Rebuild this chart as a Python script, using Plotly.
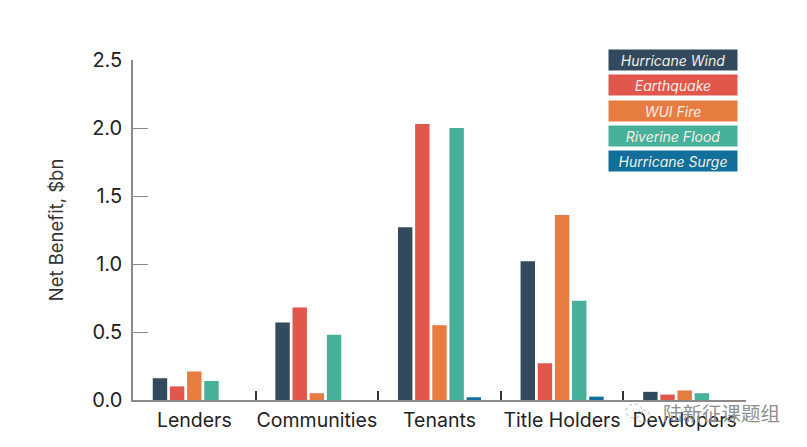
import plotly.graph_objects as go

categories = ["Lenders", "Communities", "Tenants", "Title Holders", "Developers"]
hurricane_wind = [0.16, 0.57, 1.27, 1.02, 0.06]
earthquake = [0.10, 0.68, 2.03, 0.27, 0.04]
wui_fire = [0.21, 0.05, 0.55, 1.36, 0.07]
riverine_flood = [0.14, 0.48, 2.00, 0.73, 0.05]
hurricane_surge = [0.0, 0.0, 0.02, 0.025, 0.0]
series_names = ["Hurricane Wind", "Earthquake", "WUI Fire", "Riverine Flood", "Hurricane Surge"]
series_values = [hurricane_wind, earthquake, wui_fire, riverine_flood, hurricane_surge]
colors = ["#334a5e", "#e2574c", "#e67c40", "#47b09a", "#11709b"]
y_ticks = [0, 0.5, 1.0, 1.5, 2.0, 2.5]
y_labels = ["0.0", "0.5", "1.0", "1.5", "2.0", "2.5"]

FONT = "Inter, Liberation Sans, sans-serif"
OFF = 8  # the page body has an 8px margin
W, H = 807 - OFF, 447 - OFF
L, R, T, B = 132.5 - OFF, 746 - OFF, 60 - OFF, 400 - OFF

fig = go.Figure()
for n, v, c in zip(series_names, series_values, colors):
    fig.add_bar(x=categories, y=v, name=n, marker=dict(color=c, line_width=0), showlegend=False)

fig.update_layout(
    width=W, height=H, autosize=False,
    margin=dict(l=L, r=W - R, t=T, b=H - B, pad=0),
    paper_bgcolor="white", plot_bgcolor="white",
    barmode="group", bargap=0.3, bargroupgap=0.16,
    font=dict(family=FONT, color="#222222"),
    xaxis=dict(tickson="boundaries", ticks="inside", ticklen=9, tickwidth=1.5, tickcolor="#333333",
               showline=True, linecolor="#8a8a8a", linewidth=1.5, showgrid=False,
               tickangle=0, automargin=False,
               ticklabelstandoff=2, tickfont=dict(size=19.5, color="#222222")),
    yaxis=dict(range=[0, 2.5], tickvals=y_ticks, ticktext=y_labels, ticks="inside", ticklen=15,
               tickwidth=1, tickcolor="#8a8a8a", showline=True, linecolor="#8a8a8a", linewidth=1.5,
               showgrid=False, zeroline=False, automargin=False,
               ticklabelstandoff=5, tickfont=dict(size=20, color="#222222"),
               title=dict(text="Net Benefit, $bn", font=dict(size=18.5, color="#333333"), standoff=24)),
)

# legend: stacked colour boxes with the series name inside
box_top = [50, 75.5, 100.5, 126, 151]
for n, c, t in zip(series_names, colors, box_top):
    fig.add_annotation(xref="paper", yref="paper", x=(672.5 - 132.5) / (R - L), y=(400 - (t + 10)) / (B - T),
                       text="<i>%s</i>" % n, showarrow=False, width=126, height=18, align="center",
                       bgcolor=c, font=dict(size=14, color="#f5efe6", family=FONT),
                       xanchor="center", yanchor="middle", borderpad=1)

# watermark
fig.add_annotation(xref="paper", yref="paper", x=(721 - 132.5) / (R - L), y=(400 - 412) / (B - T),
                   text="陆新征课题组", showarrow=False, xanchor="center", yanchor="middle",
                   font=dict(size=19.5, color="#8f8f8f", family="Noto Sans CJK SC"))
for x0, y0, x1, y1 in [(626, 404, 642, 418), (636, 410, 650, 422)]:
    fig.add_shape(type="circle", xref="paper", yref="paper",
                  x0=(x0 - 132.5) / (R - L), x1=(x1 - 132.5) / (R - L),
                  y0=(400 - y0) / (B - T), y1=(400 - y1) / (B - T),
                  line=dict(color="#b5b5b5", width=1, dash="dot"))

fig.write_html("out.html")
